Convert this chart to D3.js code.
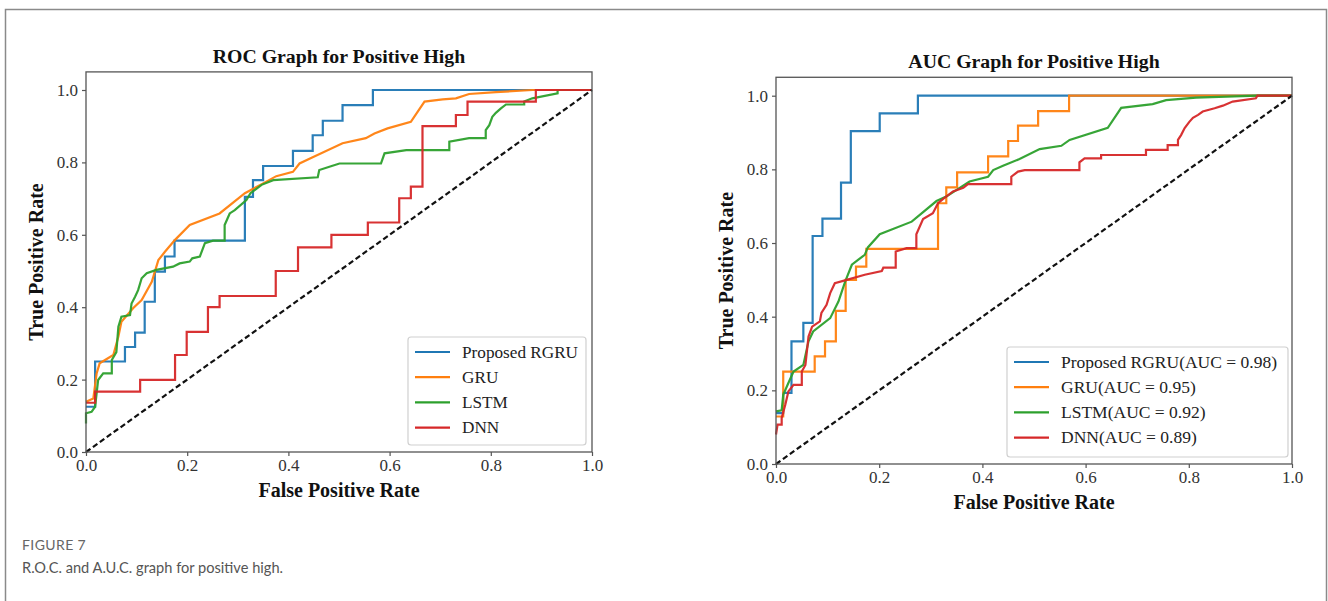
<!DOCTYPE html>
<html>
<head>
<meta charset="utf-8">
<script src="https://cdn.jsdelivr.net/npm/d3@7"></script>
<style>
  html, body { margin: 0; padding: 0; background: #fff; }
  svg { display: block; }
</style>
</head>
<body>
<svg id="chart" width="1328" height="601"></svg>
<script>
// ---------------- DATA ----------------
const seriesNames = ["Proposed RGRU", "GRU", "LSTM", "DNN"];
const aucValues = [0.98, 0.95, 0.92, 0.89];
const tickValues = [0.0, 0.2, 0.4, 0.6, 0.8, 1.0];
const colors = ["#1f77b4", "#ff7f0e", "#2ca02c", "#d62728"];

// ROC panel (left)  [fpr, tpr]
const rocRGRU = [[0,0.125],[0.018,0.25],[0.077,0.29],[0.097,0.33],[0.116,0.415],[0.136,0.498],[0.156,0.54],[0.175,0.584],[0.314,0.705],[0.33,0.751],[0.35,0.79],[0.409,0.832],[0.448,0.875],[0.468,0.915],[0.507,0.958],[0.567,1.0],[1,1]];
const rocGRU = [[0,0.139],[0.0145,0.148],[0.021,0.217],[0.027,0.245],[0.054,0.268],[0.064,0.319],[0.07,0.36],[0.093,0.397],[0.11,0.42],[0.13,0.47],[0.143,0.53],[0.156,0.553],[0.176,0.586],[0.205,0.627],[0.264,0.659],[0.314,0.715],[0.35,0.742],[0.376,0.762],[0.409,0.774],[0.422,0.797],[0.448,0.814],[0.507,0.853],[0.553,0.867],[0.57,0.88],[0.596,0.894],[0.642,0.912],[0.669,0.968],[0.705,0.974],[0.731,0.977],[0.757,0.989],[0.81,0.994],[0.882,1.0],[1,1]];
const rocLSTM = [[0,0.079],[0,0.107],[0.011,0.111],[0.018,0.125],[0.024,0.199],[0.034,0.217],[0.051,0.217],[0.051,0.254],[0.06,0.276],[0.064,0.346],[0.07,0.374],[0.087,0.378],[0.09,0.41],[0.097,0.429],[0.103,0.447],[0.11,0.48],[0.12,0.494],[0.139,0.503],[0.172,0.512],[0.185,0.521],[0.205,0.526],[0.21,0.535],[0.225,0.54],[0.235,0.577],[0.251,0.584],[0.274,0.584],[0.274,0.627],[0.284,0.659],[0.294,0.668],[0.317,0.696],[0.325,0.715],[0.347,0.738],[0.37,0.751],[0.458,0.759],[0.461,0.779],[0.481,0.788],[0.501,0.797],[0.583,0.797],[0.59,0.825],[0.633,0.834],[0.718,0.834],[0.718,0.857],[0.757,0.867],[0.79,0.867],[0.79,0.889],[0.797,0.903],[0.803,0.926],[0.81,0.937],[0.82,0.949],[0.83,0.96],[0.866,0.96],[0.866,0.968],[0.882,0.977],[0.932,0.991],[0.932,1.0],[1,1]];
const rocDNN = [[0,0.136],[0.018,0.167],[0.107,0.199],[0.176,0.268],[0.199,0.332],[0.241,0.4],[0.264,0.431],[0.375,0.5],[0.419,0.565],[0.485,0.6],[0.557,0.634],[0.619,0.701],[0.642,0.733],[0.665,0.9],[0.731,0.931],[0.754,0.968],[0.889,1.0],[1,1]];

// AUC panel (right)  [fpr, tpr]
const aucRGRU = [[0,0.138],[0.014,0.193],[0.03,0.333],[0.053,0.383],[0.071,0.619],[0.09,0.666],[0.126,0.764],[0.145,0.904],[0.201,0.952],[0.275,1.0],[1,1]];
const aucGRU = [[0,0.129],[0.014,0.251],[0.075,0.292],[0.095,0.333],[0.116,0.416],[0.135,0.5],[0.155,0.536],[0.175,0.584],[0.314,0.708],[0.33,0.751],[0.351,0.792],[0.411,0.835],[0.45,0.877],[0.469,0.919],[0.508,0.958],[0.568,1.0],[1,1]];
const aucLSTM = [[0,0.143],[0.011,0.146],[0.014,0.188],[0.024,0.22],[0.034,0.251],[0.053,0.269],[0.063,0.333],[0.072,0.36],[0.105,0.396],[0.121,0.441],[0.134,0.495],[0.147,0.541],[0.159,0.554],[0.172,0.568],[0.178,0.588],[0.201,0.624],[0.263,0.658],[0.311,0.714],[0.33,0.726],[0.375,0.767],[0.411,0.78],[0.421,0.798],[0.44,0.81],[0.472,0.828],[0.511,0.855],[0.553,0.864],[0.569,0.88],[0.643,0.913],[0.669,0.967],[0.73,0.977],[0.756,0.988],[0.814,0.995],[0.933,1.0],[1,1]];
const aucDNN = [[0,0.08],[0.003,0.107],[0.011,0.107],[0.011,0.125],[0.018,0.161],[0.024,0.197],[0.034,0.215],[0.05,0.215],[0.05,0.251],[0.057,0.269],[0.063,0.346],[0.07,0.373],[0.085,0.387],[0.088,0.41],[0.098,0.432],[0.105,0.464],[0.114,0.491],[0.137,0.5],[0.172,0.514],[0.205,0.524],[0.208,0.533],[0.232,0.533],[0.232,0.577],[0.253,0.586],[0.272,0.586],[0.272,0.624],[0.285,0.665],[0.304,0.681],[0.314,0.708],[0.324,0.72],[0.343,0.74],[0.363,0.75],[0.372,0.76],[0.456,0.76],[0.456,0.78],[0.469,0.794],[0.482,0.798],[0.588,0.798],[0.588,0.819],[0.598,0.83],[0.63,0.83],[0.63,0.839],[0.717,0.839],[0.717,0.853],[0.759,0.853],[0.759,0.866],[0.779,0.866],[0.779,0.88],[0.785,0.893],[0.792,0.912],[0.801,0.929],[0.808,0.94],[0.818,0.948],[0.827,0.957],[0.85,0.966],[0.866,0.973],[0.885,0.984],[0.93,0.993],[0.933,1.0],[1,1]];

const diagonal = [[0,0],[1,1]];

const captionLabel = "FIGURE 7";
const captionText = "R.O.C. and A.U.C. graph for positive high.";

// ---------------- DRAW ----------------
const svg = d3.select("#chart");
const serif = "'Liberation Serif', 'Times New Roman', serif";

// outer frame (top, left, right)
svg.append("path")
  .attr("d", "M5.5,601 L5.5,9.5 L1326.5,9.5 L1326.5,601")
  .attr("fill", "none").attr("stroke", "#8a8a8a").attr("stroke-width", 1.5);

function panel(cfg) {
  const x = d3.scaleLinear().domain([0, 1]).range([cfg.x0, cfg.x1]);
  const y = d3.scaleLinear().domain([0, 1]).range([cfg.y0, cfg.y1]);
  const yTop = y(1.05);
  const g = svg.append("g");

  // lines
  const lineLin = d3.line().x(d => x(d[0])).y(d => y(d[1]));
  const lineStep = d3.line().x(d => x(d[0])).y(d => y(d[1])).curve(d3.curveStepAfter);
  const clip = "clip" + cfg.id;
  svg.append("clipPath").attr("id", clip).append("rect")
    .attr("x", cfg.x0 - 2).attr("y", yTop).attr("width", cfg.x1 - cfg.x0 + 4).attr("height", cfg.y0 - yTop + 2);
  const lg = g.append("g").attr("clip-path", `url(#${clip})`);
  cfg.series.forEach((s, i) => {
    lg.append("path").datum(s.data)
      .attr("d", s.step ? lineStep : lineLin)
      .attr("fill", "none").attr("stroke", colors[i]).attr("stroke-width", 2.2)
      .attr("stroke-linejoin", "miter").attr("opacity", 0.95);
  });
  lg.append("path").datum(diagonal).attr("d", lineLin)
    .attr("fill", "none").attr("stroke", "#111").attr("stroke-width", 2.2)
    .attr("stroke-dasharray", "5.5,3");

  // frame
  g.append("rect").attr("x", cfg.x0).attr("y", yTop)
    .attr("width", cfg.x1 - cfg.x0).attr("height", cfg.y0 - yTop)
    .attr("fill", "none").attr("stroke", "#555").attr("stroke-width", 1.3);

  // axes
  const fmt = d3.format(".1f");
  const xAxis = d3.axisBottom(x).tickValues(tickValues).tickFormat(fmt).tickSize(4).tickPadding(3);
  const yAxis = d3.axisLeft(y).tickValues(tickValues).tickFormat(fmt).tickSize(4).tickPadding(4);
  const ax = g.append("g").attr("transform", `translate(0,${cfg.y0})`).call(xAxis);
  const ay = g.append("g").attr("transform", `translate(${cfg.x0},0)`).call(yAxis);
  [ax, ay].forEach(a => {
    a.select(".domain").remove();
    a.selectAll("line").attr("stroke", "#555").attr("stroke-width", 1.2);
    a.selectAll("text").attr("font-family", serif).attr("font-size", 17).attr("fill", "#333");
  });

  // title & labels
  const cx = (cfg.x0 + cfg.x1) / 2;
  g.append("text").attr("x", cx).attr("y", yTop - 9).attr("text-anchor", "middle")
    .attr("font-family", serif).attr("font-weight", "bold").attr("font-size", 19.8).attr("fill", "#111")
    .text(cfg.title);
  g.append("text").attr("x", cx).attr("y", cfg.y0 + 45).attr("text-anchor", "middle")
    .attr("font-family", serif).attr("font-weight", "bold").attr("font-size", 20).attr("fill", "#111")
    .text("False Positive Rate");
  g.append("text").attr("transform", `translate(${cfg.x0 - 43},${(cfg.y0 + yTop) / 2}) rotate(-90)`)
    .attr("text-anchor", "middle")
    .attr("font-family", serif).attr("font-weight", "bold").attr("font-size", 20).attr("fill", "#111")
    .text("True Positive Rate");

  // legend
  const L = cfg.legend;
  const lgd = g.append("g");
  lgd.append("rect").attr("x", L.x).attr("y", L.y).attr("width", L.w).attr("height", L.h)
    .attr("rx", 3).attr("fill", "#fff").attr("stroke", "#d0d0d0").attr("stroke-width", 1.2);
  cfg.series.forEach((s, i) => {
    const yy = L.y + 15 + i * 25.2;
    lgd.append("line").attr("x1", L.x + 7).attr("x2", L.x + 42).attr("y1", yy).attr("y2", yy)
      .attr("stroke", colors[i]).attr("stroke-width", 2.2);
    lgd.append("text").attr("x", L.x + 54).attr("y", yy + 5.5)
      .attr("font-family", serif).attr("font-size", cfg.legendFont).attr("fill", "#222")
      .text(s.label);
  });
}

panel({
  id: "L", x0: 86, x1: 592, y0: 452, y1: 90,
  title: "ROC Graph for Positive High",
  legend: { x: 408, y: 337, w: 178, h: 108 },
  legendFont: 17.2,
  series: [
    { data: rocRGRU, step: true, label: seriesNames[0] },
    { data: rocGRU, step: false, label: seriesNames[1] },
    { data: rocLSTM, step: false, label: seriesNames[2] },
    { data: rocDNN, step: true, label: seriesNames[3] }
  ]
});

panel({
  id: "R", x0: 776, x1: 1292, y0: 464, y1: 95.7,
  title: "AUC Graph for Positive High",
  legend: { x: 1007, y: 347, w: 281, h: 110 },
  legendFont: 17.5,
  series: [
    { data: aucRGRU, step: true, label: `${seriesNames[0]}(AUC = ${aucValues[0].toFixed(2)})` },
    { data: aucGRU, step: true, label: `${seriesNames[1]}(AUC = ${aucValues[1].toFixed(2)})` },
    { data: aucLSTM, step: false, label: `${seriesNames[2]}(AUC = ${aucValues[2].toFixed(2)})` },
    { data: aucDNN, step: false, label: `${seriesNames[3]}(AUC = ${aucValues[3].toFixed(2)})` }
  ]
});

// caption
svg.append("text").attr("x", 22).attr("y", 550)
  .attr("font-family", "Lato, sans-serif").attr("font-size", 14).attr("fill", "#666")
  .attr("letter-spacing", 0.4)
  .text(captionLabel);
svg.append("text").attr("x", 22).attr("y", 573)
  .attr("font-family", "Lato, sans-serif").attr("font-size", 16).attr("fill", "#555")
  .attr("textLength", 261).attr("lengthAdjust", "spacingAndGlyphs")
  .text(captionText);
</script>
</body>
</html>
